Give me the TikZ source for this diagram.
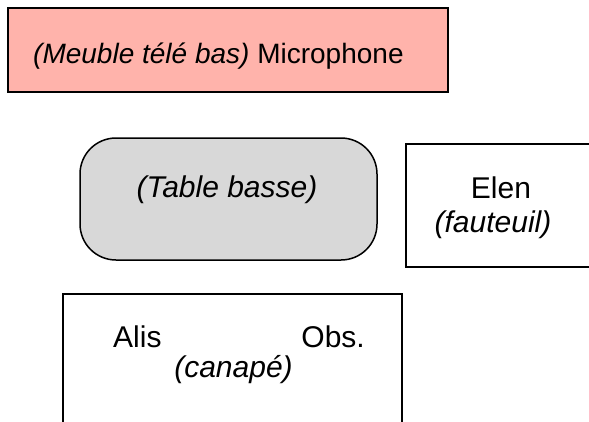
\documentclass[tikz,border=0pt]{standalone}
\usepackage{fontspec}
\setmainfont{Liberation Sans}

\definecolor{meublerose}{RGB}{255,179,171}
\definecolor{tablegris}{RGB}{216,216,216}

\tikzset{
	meuble/.style = {draw, line width = 1.5pt, inner sep = 0pt},
	nom/.style = {inner sep = 0pt, font = \fontsize{30}{34}\selectfont},
	objet/.style = {nom, font = \fontsize{30}{34}\selectfont\itshape}
}

\begin{document}
\begin{tikzpicture}[x = 1pt, y = -1pt]
				%	cadre
				\def\largeur{589}
				\def\hauteur{421}
				\useasboundingbox (0, 0) rectangle (\largeur, \hauteur);
				\clip (0, 0) rectangle (\largeur, \hauteur);
				
				%	meuble tele
				\node[meuble, fill = meublerose, line width = 2pt, minimum width = 440pt, minimum height = 84pt] (tele) at (228, 50) {};
				\node[nom, font = \fontsize{28}{34}\selectfont, anchor = base west] (micro) at (33, 63) {\textit{(Meuble télé bas)} Microphone};
				
				%	table basse
				\node[meuble, fill = tablegris, rounded corners = 36pt, minimum width = 297pt, minimum height = 122pt] (table) at (228.5, 199) {};
				\node[objet, anchor = base] (tablenom) at (227, 197) {(Table basse)};
				
				%	fauteuil
				\node[meuble, minimum width = 194pt, minimum height = 123pt] (fauteuil) at (503, 205.5) {};
				\node[nom, anchor = base] (elen) at (501, 198) {Elen};
				\node[objet, anchor = base] (fauteuilnom) at (493, 232) {(fauteuil)};
				
				%	canape
				\node[meuble, minimum width = 339pt, minimum height = 150pt] (canape) at (232.5, 369) {};
				\node[nom, anchor = base west] (alis) at (113, 347) {Alis};
				\node[nom, anchor = base east] (obs) at (365, 347) {Obs.};
				\node[objet, anchor = base] (canapenom) at (233.5, 377) {(canapé)};
\end{tikzpicture}
\end{document}
